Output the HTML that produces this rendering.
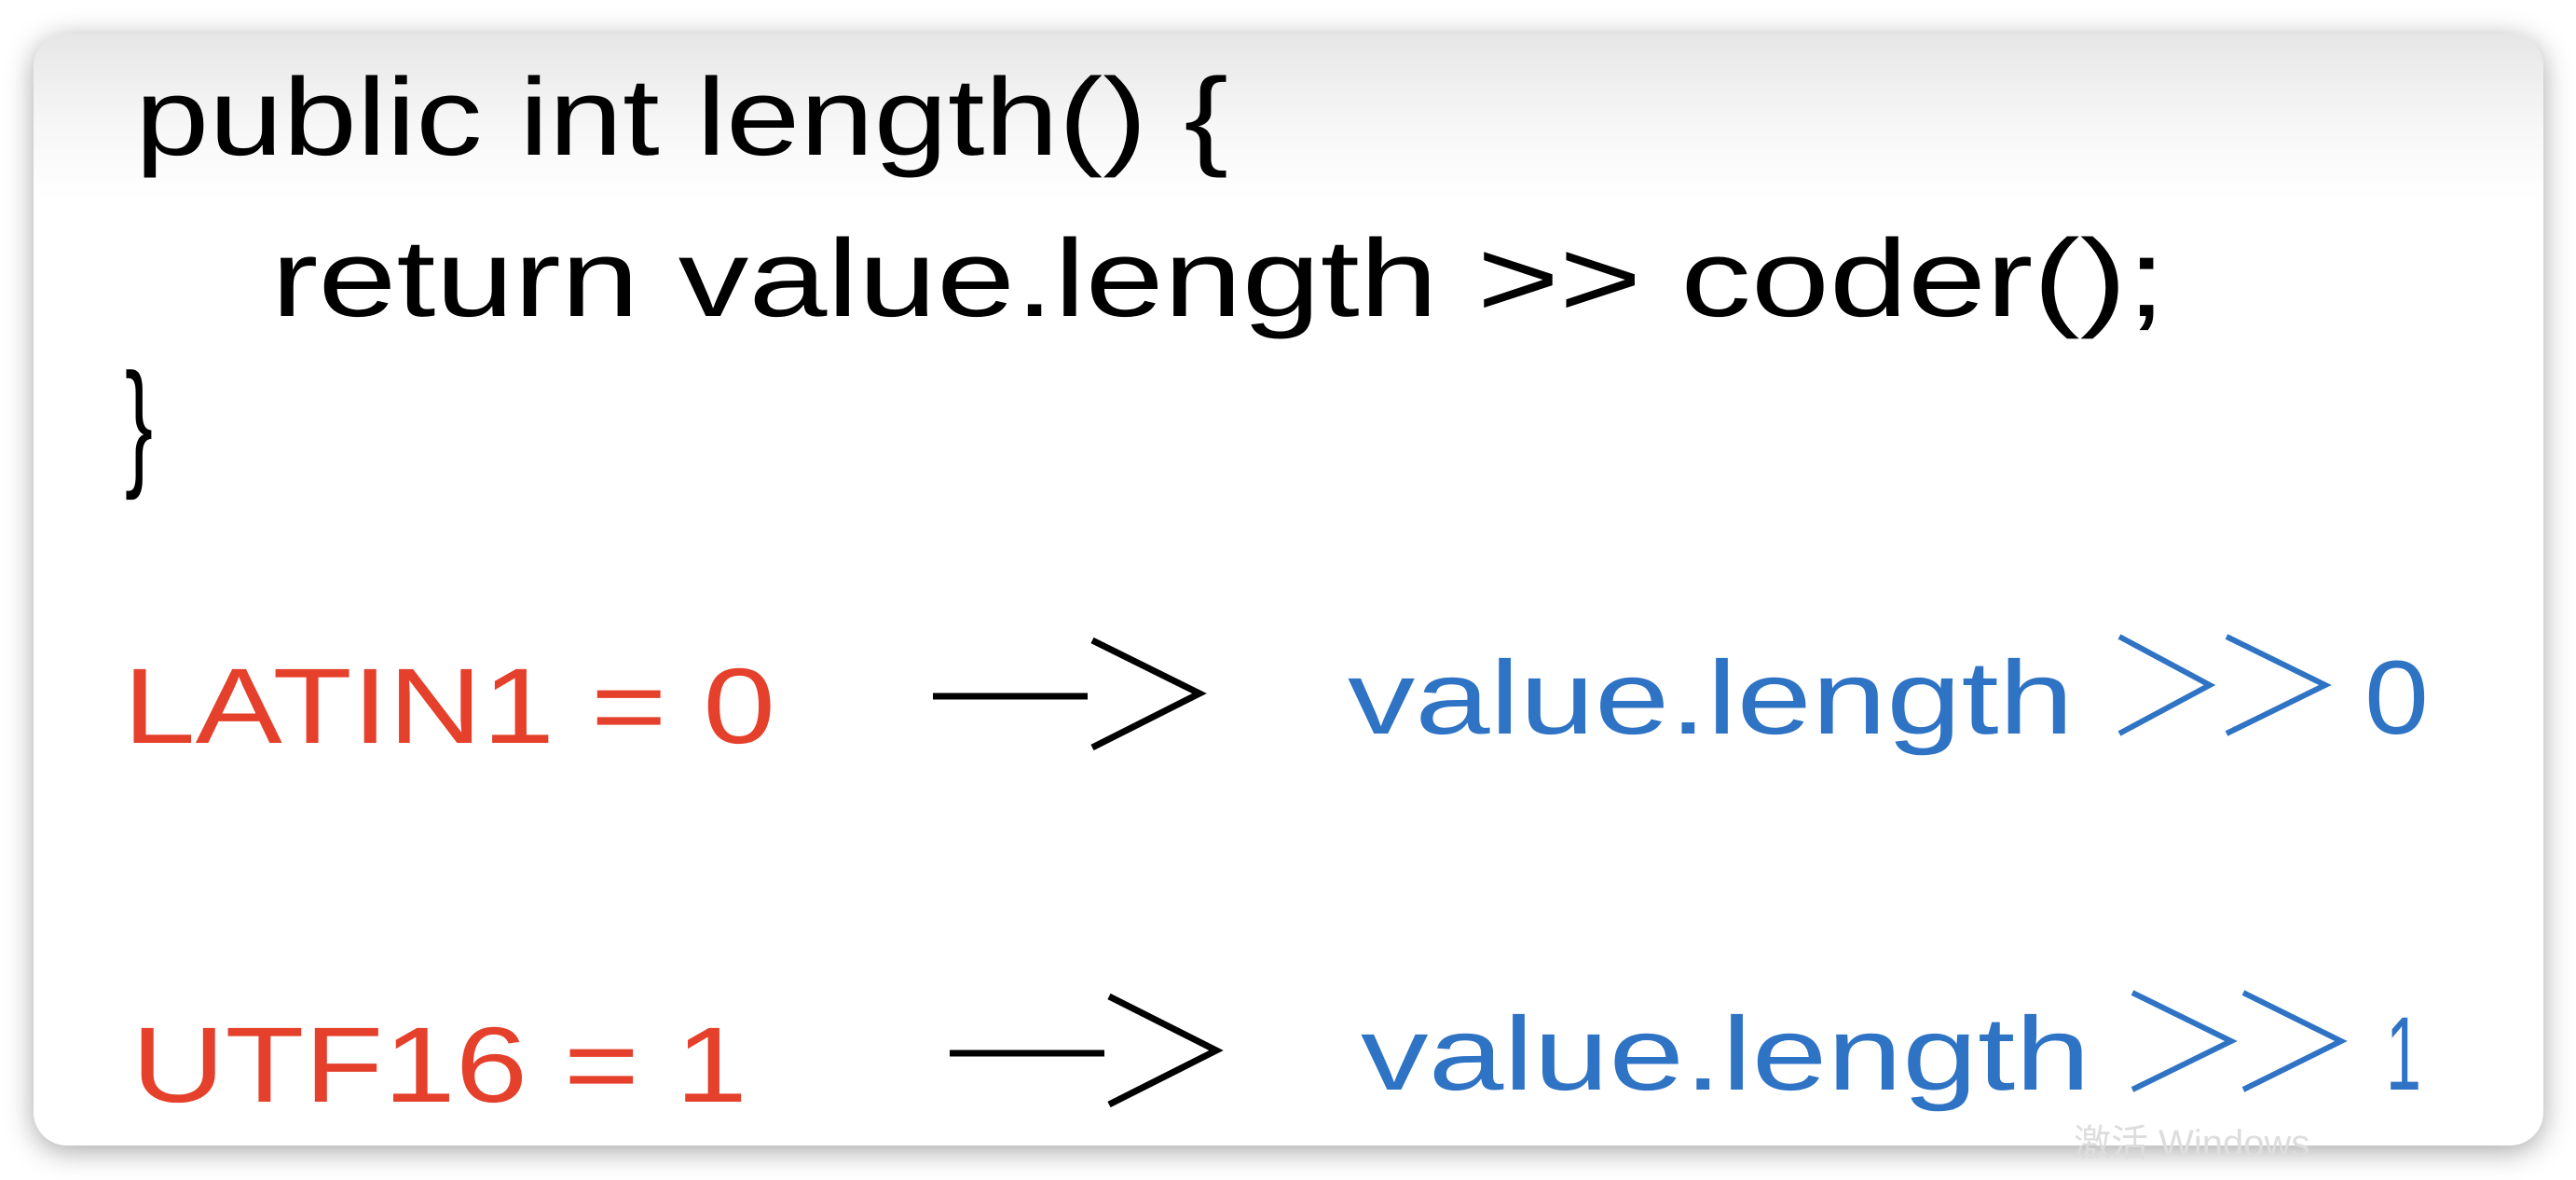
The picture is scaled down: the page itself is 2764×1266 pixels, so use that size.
<!DOCTYPE html>
<html><head><meta charset="utf-8"><style>
html,body{margin:0;padding:0;background:#fff;width:2764px;height:1266px;overflow:hidden}
.card{position:absolute;left:36px;top:36px;width:2693px;height:1193px;border-radius:36px;
background:linear-gradient(#e6e6e6 0px,#f7f7f7 100px,#fff 180px,#fff 100%);
box-shadow:0 6px 30px rgba(0,0,0,0.35)}
svg{position:absolute;left:0;top:0}
text{font-family:"Liberation Sans",sans-serif}
</style></head><body>
<div class="card"></div>
<svg width="2764" height="1266" viewBox="0 0 2764 1266">
<g fill="#000" font-size="118">
<text x="145" y="166" textLength="1173" lengthAdjust="spacingAndGlyphs">public int length() {</text>
<text x="291" y="339" textLength="2033" lengthAdjust="spacingAndGlyphs">return value.length &gt;&gt; coder();</text>
<text x="134" y="505" font-size="150" textLength="30" lengthAdjust="spacingAndGlyphs">}</text>
</g>
<g fill="#e5402b" font-size="115">
<text x="132" y="797" textLength="700" lengthAdjust="spacingAndGlyphs">LATIN1 = 0</text>
<text x="141" y="1182" textLength="661" lengthAdjust="spacingAndGlyphs">UTF16  = 1</text>
</g>
<g stroke="#000" stroke-width="7" fill="none">
<line x1="1001" y1="747" x2="1167" y2="747"/>
<polyline points="1172,687 1287,744 1172,802"/>
<line x1="1019" y1="1130" x2="1185" y2="1130"/>
<polyline points="1190,1069 1305,1127 1190,1185"/>
</g>
<g fill="#2f73c4" font-size="112">
<text x="1446" y="787" textLength="779" lengthAdjust="spacingAndGlyphs">value.length</text>
<text x="2537" y="787" textLength="69" lengthAdjust="spacingAndGlyphs">0</text>
<text x="1460" y="1169" textLength="783" lengthAdjust="spacingAndGlyphs">value.length</text>
<text x="2560" y="1169" textLength="38" lengthAdjust="spacingAndGlyphs">1</text>
</g>
<g stroke="#2f73c4" stroke-width="6" fill="none">
<polyline points="2274,683 2371,735 2274,787"/>
<polyline points="2389,683 2495,735 2389,787"/>
<polyline points="2288,1065 2394,1117 2288,1169"/>
<polyline points="2407,1065 2512,1117 2407,1169"/>
</g>
<text x="2225" y="1240" font-size="40" fill="#ddd">激活 Windows</text>
</svg>
</body></html>
